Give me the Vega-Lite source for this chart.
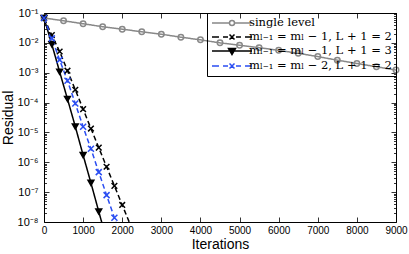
{
  "$schema": "https://vega.github.io/schema/vega-lite/v6.json",
  "width": 352,
  "height": 209,
  "autosize": {"type": "none"},
  "padding": {"left": 44, "top": 13, "right": 13, "bottom": 32},
  "config": {
    "font": "Liberation Sans",
    "view": {"stroke": "black", "strokeWidth": 1},
    "axis": {"domain": false, "grid": false, "labelColor": "black", "tickColor": "black", "titleColor": "black", "titleFontWeight": "normal", "titleFontSize": 14, "labelFontSize": 10, "labelFlush": false, "labelOverlap": false, "tickWidth": 0.8}
  },
  "datasets": {
    "d": [
      {"series": "s", "iter": 0, "res": 0.068},
      {"series": "s", "iter": 500, "res": 0.0550},
      {"series": "s", "iter": 1000, "res": 0.0437},
      {"series": "s", "iter": 1500, "res": 0.0347},
      {"series": "s", "iter": 2000, "res": 0.0288},
      {"series": "s", "iter": 2500, "res": 0.0234},
      {"series": "s", "iter": 3000, "res": 0.0195},
      {"series": "s", "iter": 3500, "res": 0.0155},
      {"series": "s", "iter": 4000, "res": 0.0126},
      {"series": "s", "iter": 4500, "res": 0.0100},
      {"series": "s", "iter": 5000, "res": 0.00832},
      {"series": "s", "iter": 5500, "res": 0.00692},
      {"series": "s", "iter": 6000, "res": 0.00562},
      {"series": "s", "iter": 6500, "res": 0.00447},
      {"series": "s", "iter": 7000, "res": 0.00347},
      {"series": "s", "iter": 7500, "res": 0.00263},
      {"series": "s", "iter": 8000, "res": 0.00204},
      {"series": "s", "iter": 8500, "res": 0.00158},
      {"series": "s", "iter": 9000, "res": 0.00123},
      {"series": "a", "iter": 0, "res": 0.068},
      {"series": "a", "iter": 200, "res": 0.0182},
      {"series": "a", "iter": 400, "res": 0.00513},
      {"series": "a", "iter": 600, "res": 0.00117},
      {"series": "a", "iter": 800, "res": 0.000269},
      {"series": "a", "iter": 1000, "res": 6.03e-5},
      {"series": "a", "iter": 1200, "res": 1.35e-5},
      {"series": "a", "iter": 1400, "res": 3.09e-6},
      {"series": "a", "iter": 1600, "res": 7.08e-7},
      {"series": "a", "iter": 1800, "res": 1.62e-7},
      {"series": "a", "iter": 2000, "res": 3.72e-8},
      {"series": "a", "iter": 2200, "res": 8.51e-9},
      {"series": "b", "iter": 0, "res": 0.068},
      {"series": "b", "iter": 200, "res": 0.00891},
      {"series": "b", "iter": 400, "res": 0.00107},
      {"series": "b", "iter": 600, "res": 0.000132},
      {"series": "b", "iter": 800, "res": 1.58e-5},
      {"series": "b", "iter": 1000, "res": 1.74e-6},
      {"series": "b", "iter": 1200, "res": 2.04e-7},
      {"series": "b", "iter": 1400, "res": 2.24e-8},
      {"series": "b", "iter": 1600, "res": 2.51e-9},
      {"series": "c", "iter": 0, "res": 0.068},
      {"series": "c", "iter": 200, "res": 0.0141},
      {"series": "c", "iter": 400, "res": 0.00269},
      {"series": "c", "iter": 600, "res": 0.000537},
      {"series": "c", "iter": 800, "res": 9.33e-5},
      {"series": "c", "iter": 1000, "res": 1.55e-5},
      {"series": "c", "iter": 1200, "res": 2.82e-6},
      {"series": "c", "iter": 1400, "res": 4.68e-7},
      {"series": "c", "iter": 1600, "res": 7.94e-8},
      {"series": "c", "iter": 1800, "res": 1.38e-8},
      {"series": "c", "iter": 2000, "res": 2.40e-9}
    ]
  },
  "data": {"name": "d"},
  "resolve": {"scale": {"shape": "independent", "stroke": "independent", "fill": "independent"}, "axis": {"x": "independent", "y": "independent"}},
  "layer": [
    {
      "mark": {"type": "line", "clip": true, "strokeWidth": 1.5},
      "encoding": {
        "x": {"field": "iter", "type": "quantitative", "scale": {"domain": [0, 9000], "nice": false, "zero": false},
          "axis": {"orient": "bottom", "values": [0, 1000, 2000, 3000, 4000, 5000, 6000, 7000, 8000, 9000], "format": "d", "tickSize": -5, "labelPadding": 8, "title": "Iterations", "titlePadding": 2}},
        "y": {"field": "res", "type": "quantitative", "scale": {"type": "log", "domain": [1e-8, 0.1], "nice": false},
          "axis": {"orient": "left",
            "values": [1e-8,2e-8,3e-8,4e-8,5e-8,6e-8,7e-8,8e-8,9e-8,1e-7,2e-7,3e-7,4e-7,5e-7,6e-7,7e-7,8e-7,9e-7,1e-6,2e-6,3e-6,4e-6,5e-6,6e-6,7e-6,8e-6,9e-6,1e-5,2e-5,3e-5,4e-5,5e-5,6e-5,7e-5,8e-5,9e-5,1e-4,2e-4,3e-4,4e-4,5e-4,6e-4,7e-4,8e-4,9e-4,1e-3,2e-3,3e-3,4e-3,5e-3,6e-3,7e-3,8e-3,9e-3,1e-2,2e-2,3e-2,4e-2,5e-2,6e-2,7e-2,8e-2,9e-2,1e-1],
            "tickSize": {"condition": {"test": "abs(log(datum.value)/LN10 - round(log(datum.value)/LN10)) < 0.01", "value": -5}, "value": -2.5},
            "labelExpr": "abs(log(datum.value)/LN10 - round(log(datum.value)/LN10)) < 0.01 ? '10' + ['⁻⁸','⁻⁷','⁻⁶','⁻⁵','⁻⁴','⁻³','⁻²','⁻¹'][round(log(datum.value)/LN10)+8] : ''",
            "labelPadding": 11, "labelFontSize": 11, "title": "Residual", "titlePadding": 2}},
        "stroke": {"field": "series", "type": "nominal", "scale": {"domain": ["s", "a", "b", "c"], "range": ["#888888", "black", "black", "#2b4ef2"]}, "legend": null},
        "strokeDash": {"field": "series", "type": "nominal", "scale": {"domain": ["s", "a", "b", "c"], "range": [[1, 0], [5, 3], [1, 0], [5, 3]]}, "legend": null}
      }
    },
    {
      "transform": [{"filter": "datum.res >= 1e-8"}],
      "mark": {"type": "point", "strokeWidth": 1.5, "opacity": 1},
      "encoding": {
        "x": {"field": "iter", "type": "quantitative", "axis": null},
        "y": {"field": "res", "type": "quantitative", "axis": null},
        "shape": {"field": "series", "type": "nominal", "scale": {"domain": ["s", "a", "b", "c"], "range": ["circle", "M-1,-1L1,1M-1,1L1,-1", "triangle-down", "M-1,-1L1,1M-1,1L1,-1"]}, "legend": null},
        "stroke": {"field": "series", "type": "nominal", "scale": {"domain": ["s", "a", "b", "c"], "range": ["#888888", "black", "black", "#2b4ef2"]}, "legend": null},
        "fill": {"field": "series", "type": "nominal", "scale": {"domain": ["s", "a", "b", "c"], "range": ["transparent", "transparent", "black", "transparent"]}, "legend": null},
        "size": {"field": "series", "type": "ordinal", "scale": {"domain": ["s", "a", "b", "c"], "range": [30, 36, 45, 36]}, "legend": null}
      }
    },
    {
      "transform": [{"filter": "false"}],
      "mark": {"type": "point", "opacity": 1, "strokeWidth": 1.5},
      "encoding": {
        "x": {"field": "iter", "type": "quantitative", "axis": {"orient": "top", "values": [0, 1000, 2000, 3000, 4000, 5000, 6000, 7000, 8000, 9000], "labels": false, "tickSize": -5, "title": null}},
        "y": {"field": "res", "type": "quantitative", "axis": {"orient": "right",
            "values": [1e-8,2e-8,3e-8,4e-8,5e-8,6e-8,7e-8,8e-8,9e-8,1e-7,2e-7,3e-7,4e-7,5e-7,6e-7,7e-7,8e-7,9e-7,1e-6,2e-6,3e-6,4e-6,5e-6,6e-6,7e-6,8e-6,9e-6,1e-5,2e-5,3e-5,4e-5,5e-5,6e-5,7e-5,8e-5,9e-5,1e-4,2e-4,3e-4,4e-4,5e-4,6e-4,7e-4,8e-4,9e-4,1e-3,2e-3,3e-3,4e-3,5e-3,6e-3,7e-3,8e-3,9e-3,1e-2,2e-2,3e-2,4e-2,5e-2,6e-2,7e-2,8e-2,9e-2,1e-1],
            "tickSize": {"condition": {"test": "abs(log(datum.value)/LN10 - round(log(datum.value)/LN10)) < 0.01", "value": -5}, "value": -2.5},
            "labels": false, "title": null}},
        "stroke": {"field": "series", "type": "nominal", "scale": {"domain": ["s", "a", "b", "c"], "range": ["#888888", "black", "black", "#2b4ef2"]}},
        "fill": {"field": "series", "type": "nominal", "scale": {"domain": ["s", "a", "b", "c"], "range": ["transparent", "transparent", "black", "transparent"]}},
        "shape": {"field": "series", "type": "nominal",
          "scale": {"domain": ["s", "a", "b", "c"], "range": [
            "M-1,0H2.5M3.5,0H7M2.5,0A0.5,0.5 0 1,0 3.5,0A0.5,0.5 0 1,0 2.5,0",
            "M-1,0H0.4M1.2,0H2.2M3.8,0H4.8M5.6,0H7M2.5,-0.5L3.5,0.5M2.5,0.5L3.5,-0.5",
            "M-1,0H7M2.3,-0.5H3.7L3,0.7Z",
            "M-1,0H0.4M1.2,0H2.2M3.8,0H4.8M5.6,0H7M2.5,-0.5L3.5,0.5M2.5,0.5L3.5,-0.5"]},
          "legend": {
            "title": null, "orient": "top-right", "offset": 0, "padding": 4, "rowPadding": 2,
            "strokeColor": "black", "symbolSize": 100, "symbolStrokeWidth": 1.5, "symbolOpacity": 1, "labelOffset": 26,
            "labelFont": "DejaVu Serif", "labelFontSize": 11.5, "labelColor": "black", "labelLimit": 0,
            "labelExpr": "datum.value === 's' ? 'single level' : datum.value === 'a' ? 'mₗ₋₁ = mₗ − 1, L + 1 = 2' : datum.value === 'b' ? 'mₗ₋₁ = mₗ − 1, L + 1 = 3' : 'mₗ₋₁ = mₗ − 2, L + 1 = 2'"
          }}
      }
    }
  ]
}
